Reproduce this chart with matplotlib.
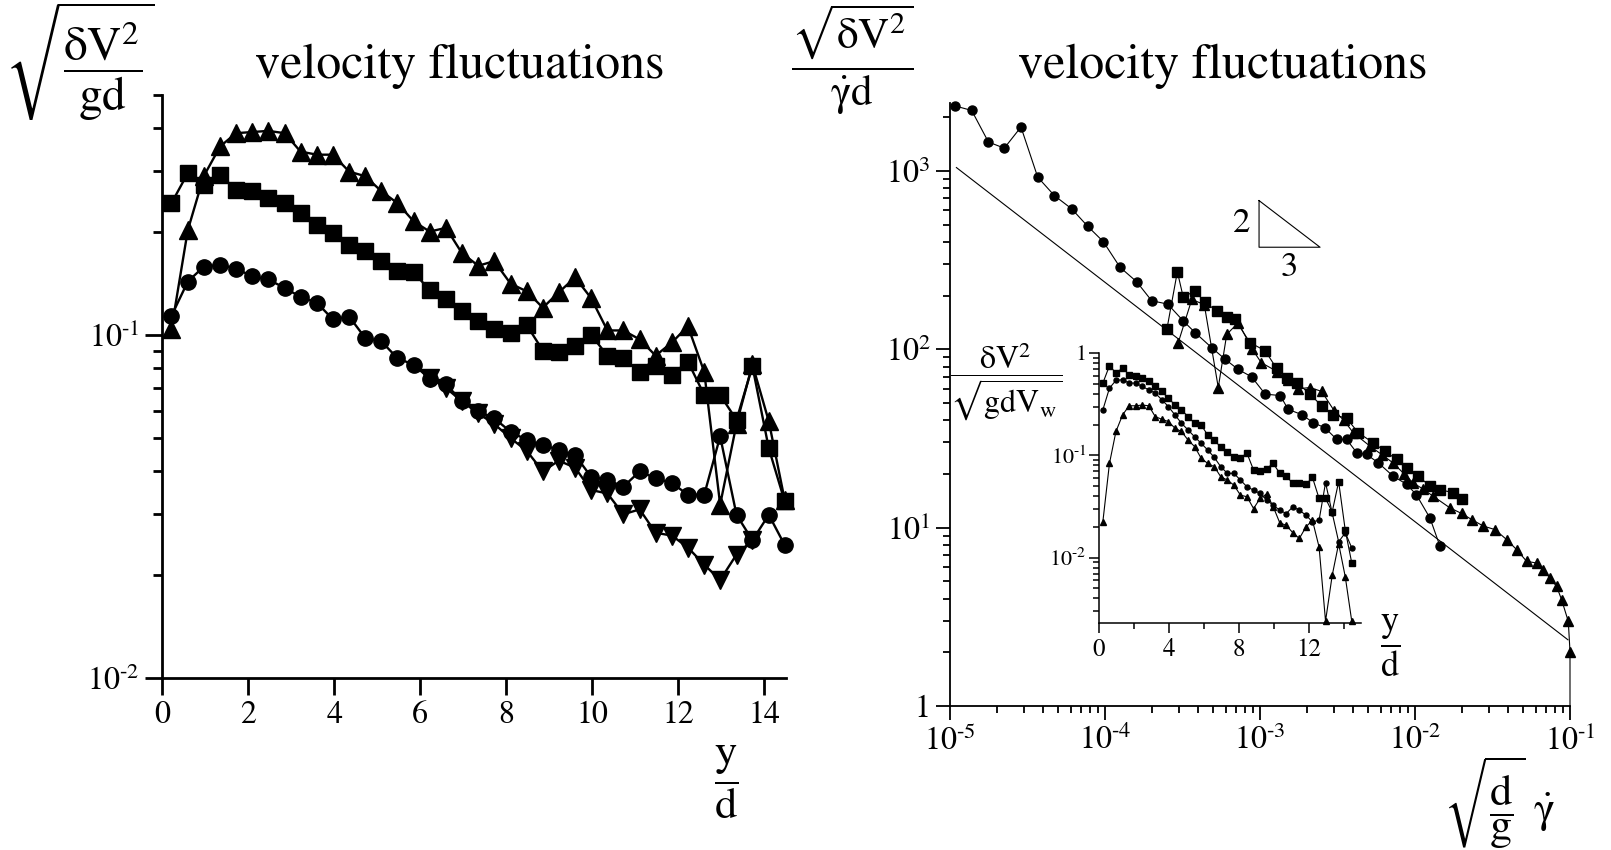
import matplotlib
matplotlib.use("Agg")
import matplotlib.pyplot as plt
from matplotlib.ticker import FixedLocator, FixedFormatter, LogLocator, NullFormatter

plt.rcParams['font.family'] = 'STIXGeneral'
plt.rcParams['mathtext.fontset'] = 'stix'

# ---- left panel: sqrt(dV^2/gd) against y/d ----
y_over_d = [0.22, 0.60, 0.97, 1.35, 1.72, 2.10, 2.47, 2.85, 3.22, 3.60,
            3.97, 4.35, 4.72, 5.10, 5.47, 5.85, 6.22, 6.60, 6.97, 7.35,
            7.72, 8.10, 8.47, 8.85, 9.22, 9.60, 9.97, 10.35, 10.72, 11.10,
            11.47, 11.85, 12.22, 12.60, 12.97, 13.35, 13.72, 14.10, 14.47]
tri_left = [0.104, 0.202, 0.290, 0.354, 0.387, 0.390, 0.393, 0.387, 0.342, 0.335,
            0.335, 0.299, 0.290, 0.262, 0.242, 0.214, 0.200, 0.205, 0.173, 0.159,
            0.164, 0.141, 0.134, 0.120, 0.133, 0.147, 0.128, 0.103, 0.103, 0.097,
            0.087, 0.095, 0.106, 0.078, 0.032, 0.055, 0.082, 0.056, 0.033]
sq_left = [0.242, 0.296, 0.273, 0.292, 0.265, 0.262, 0.250, 0.242, 0.226, 0.209,
           0.198, 0.183, 0.175, 0.164, 0.153, 0.152, 0.135, 0.127, 0.117, 0.110,
           0.104, 0.101, 0.107, 0.090, 0.089, 0.093, 0.100, 0.087, 0.0855, 0.078,
           0.081, 0.0765, 0.0836, 0.0668, 0.0668, 0.0565, 0.081, 0.0467, 0.0327]
circ_left = [0.1136, 0.143, 0.158, 0.160, 0.156, 0.148, 0.145, 0.137, 0.129, 0.124,
             0.111, 0.113, 0.098, 0.0957, 0.0855, 0.0818, 0.0745, 0.0718, 0.064, 0.060,
             0.0571, 0.0522, 0.0494, 0.0478, 0.0462, 0.0446, 0.0386, 0.0378, 0.0361, 0.040,
             0.0382, 0.037, 0.0342, 0.0342, 0.0506, 0.0299, 0.0252, 0.0299, 0.0244]
down_x = [6.22, 6.60, 6.97, 7.35, 7.72, 8.10, 8.47, 8.85, 9.22, 9.60,
          9.97, 10.35, 10.72, 11.10, 11.47, 11.85, 12.22, 12.60, 12.97, 13.35, 13.72]
down_left = [0.075, 0.070, 0.064, 0.059, 0.055, 0.050, 0.046, 0.040, 0.043, 0.041,
             0.0353, 0.0345, 0.030, 0.031, 0.0265, 0.026, 0.024, 0.0214, 0.0193, 0.0229, 0.0252]

# ---- right panel: sqrt(dV^2)/(gamma_dot d) against sqrt(d/g) gamma_dot ----
circ_rate = [1.08e-5, 1.38e-5, 1.77e-5, 2.24e-5, 2.87e-5, 3.68e-5, 4.71e-5, 6.10e-5, 7.73e-5, 9.75e-5,
             1.25e-4, 1.60e-4, 2.00e-4, 2.54e-4, 3.20e-4, 3.81e-4, 4.88e-4, 5.94e-4, 7.24e-4, 8.83e-4,
             1.08e-3, 1.35e-3, 1.52e-3, 1.86e-3, 2.21e-3, 2.62e-3, 3.13e-3, 3.62e-3, 4.21e-3, 4.88e-3,
             5.79e-3, 7.24e-3, 8.83e-3, 1.02e-2, 1.25e-2, 1.45e-2]
circ_fluct = [2310, 2180, 1450, 1340, 1760, 922, 727, 612, 489, 401,
              288, 239, 187, 179, 144, 124, 102, 88, 77, 70,
              56, 55, 46, 43, 38.7, 36.3, 31.2, 31.2, 26.3, 25.7,
              23.1, 19.4, 17.5, 15.3, 11.3, 7.85]
sq_rate = [2.51e-4, 2.93e-4, 3.20e-4, 3.80e-4, 4.42e-4, 5.25e-4, 6.10e-4, 6.90e-4, 8.61e-4, 1.08e-3,
           1.28e-3, 1.49e-3, 1.73e-3, 2.10e-3, 2.51e-3, 2.97e-3, 3.62e-3, 4.31e-3, 5.38e-3, 6.40e-3,
           7.62e-3, 8.83e-3, 1.05e-2, 1.25e-2, 1.45e-2, 1.77e-2, 2.00e-2]
sq_fluct = [130, 272, 195, 213, 183, 164, 151, 147, 109, 98,
            78, 69, 65, 56, 48, 43, 41, 34, 29.9, 26.8,
            24.1, 21.6, 19.4, 17.1, 16.3, 15.7, 14.4]
tri_rate = [2.97e-4, 3.63e-4, 4.37e-4, 5.38e-4, 6.10e-4, 7.24e-4, 8.91e-4, 1.02e-3, 1.29e-3, 1.51e-3,
            1.77e-3, 2.10e-3, 2.50e-3, 3.02e-3, 3.47e-3, 4.00e-3, 5.13e-3, 6.17e-3, 7.24e-3, 8.51e-3,
            9.75e-3, 1.12e-2, 1.31e-2, 1.68e-2, 2.00e-2, 2.32e-2, 2.76e-2, 3.28e-2, 3.90e-2, 4.53e-2,
            5.25e-2, 6.10e-2, 6.73e-2, 7.43e-2, 8.20e-2, 8.83e-2, 9.75e-2, 1.0e-1, 1.0e-1]
tri_fluct = [109, 190, 178, 61, 121, 141, 100, 84, 75, 67,
             60, 61, 58, 45, 40, 34, 28.6, 25.5, 23, 20,
             17.8, 16.5, 15, 12.9, 12.0, 11.1, 10.2, 9.75, 8.57, 7.52,
             6.47, 6.33, 5.81, 5.21, 4.68, 3.94, 2.98, 2.02, 1.0]
slope_x = [1.1e-5, 9.7e-2]
slope_y = [1043, 2.35]
wedge_x = [9.86e-4, 9.86e-4, 2.44e-3, 9.86e-4]
wedge_y = [681, 373, 373, 681]

# ---- inset: dV^2/sqrt(gd)V_w against y/d ----
sq_inset = [0.508, 0.751, 0.637, 0.713, 0.613, 0.600, 0.569, 0.527, 0.471, 0.421,
            0.362, 0.311, 0.278, 0.239, 0.206, 0.198, 0.158, 0.141, 0.120, 0.109,
            0.097, 0.095, 0.105, 0.0718, 0.070, 0.074, 0.0835, 0.0667, 0.0627, 0.0531,
            0.054, 0.052, 0.0609, 0.0379, 0.0379, 0.028, 0.0552, 0.0185, 0.0089]
circ_inset = [0.278, 0.454, 0.540, 0.548, 0.508, 0.508, 0.471, 0.437, 0.405, 0.349,
              0.300, 0.248, 0.206, 0.177, 0.152, 0.131, 0.113, 0.0955, 0.0774, 0.0667,
              0.0667, 0.0573, 0.0493, 0.0457, 0.0424, 0.0365, 0.0326, 0.0291, 0.027, 0.0314,
              0.0291, 0.026, 0.0224, 0.0232, 0.054, 0.0274, 0.0143, 0.0175, 0.0125]
tri_inset = [0.0224, 0.0835, 0.171, 0.248, 0.305, 0.305, 0.310, 0.305, 0.239, 0.225,
             0.214, 0.184, 0.171, 0.141, 0.122, 0.0935, 0.0835, 0.0774, 0.0618, 0.0573,
             0.0512, 0.0408, 0.0394, 0.0302, 0.0379, 0.042, 0.0316, 0.0219, 0.0207, 0.0175,
             0.0154, 0.0200, 0.0232, 0.0127, 0.0024, 0.0067, 0.0137, 0.0065, 0.0024]

left_xticks = [0, 2, 4, 6, 8, 10, 12, 14]
left_yticks = [0.01, 0.1]
left_ylabels = ['$10^{\u2010 2}$', '$10^{\u2010 1}$']
right_xticks = [1e-5, 1e-4, 1e-3, 1e-2, 1e-1]
right_xlabels = ['$10^{\u2010 5}$', '$10^{\u2010 4}$', '$10^{\u2010 3}$', '$10^{\u2010 2}$', '$10^{\u2010 1}$']
right_yticks = [1, 10, 100, 1000]
right_ylabels = ['1', '$10^{1}$', '$10^{2}$', '$10^{3}$']
inset_xticks = [0, 4, 8, 12]
inset_xminor = [2, 6, 10, 14]
inset_yticks = [0.01, 0.1, 1]
inset_ylabels = ['$10^{\u2010 2}$', '$10^{\u2010 1}$', '1']

W, H = 1611, 850
fig = plt.figure(figsize=(W / 100, H / 100), dpi=100)


def box(x0, y0, x1, y1):
    # pixel box (top-left origin) -> figure fraction rect
    return [x0 / W, 1 - y1 / H, (x1 - x0) / W, (y1 - y0) / H]


def style(ax, lw, major, minor, size):
    for s in ['top', 'right']:
        ax.spines[s].set_visible(False)
    for s in ['left', 'bottom']:
        ax.spines[s].set_linewidth(lw)
    ax.tick_params(which='major', direction='out', length=major, width=lw, labelsize=size, pad=4)
    ax.tick_params(which='minor', direction='out', length=minor, width=lw)


k = dict(color='black', clip_on=False)

# left panel
ax1 = fig.add_axes(box(162, 95, 786, 678))
ax1.set_yscale('log')
ax1.plot(y_over_d, tri_left, marker='^', ms=13.5, lw=1.7, **k)
ax1.plot(y_over_d, sq_left, marker='s', ms=12, lw=1.7, **k)
ax1.plot(y_over_d, circ_left, marker='o', ms=11, lw=1.7, **k)
ax1.plot(down_x, down_left, marker='v', ms=13.5, lw=1.7, **k)
ax1.set_xlim(0, 14.5)
ax1.set_ylim(0.01, 0.5)
ax1.xaxis.set_major_locator(FixedLocator(left_xticks))
ax1.yaxis.set_major_locator(FixedLocator(left_yticks))
ax1.yaxis.set_major_formatter(FixedFormatter(left_ylabels))
ax1.yaxis.set_minor_locator(LogLocator(base=10, subs=range(2, 10)))
ax1.yaxis.set_minor_formatter(NullFormatter())
style(ax1, 2.0, 12, 6.5, 23)

# right panel
ax2 = fig.add_axes(box(950, 103, 1570, 706))
ax2.set_xscale('log')
ax2.set_yscale('log')
ax2.plot(slope_x, slope_y, color='black', lw=0.8)
ax2.plot(wedge_x, wedge_y, color='black', lw=0.8)
ax2.plot(circ_rate, circ_fluct, marker='o', ms=6.5, lw=0.8, **k)
ax2.plot(sq_rate, sq_fluct, marker='s', ms=7, lw=0.8, **k)
ax2.plot(tri_rate, tri_fluct, marker='^', ms=7.5, lw=0.8,
         markevery=list(range(len(tri_rate) - 1)), **k)
ax2.set_xlim(1e-5, 1e-1)
ax2.set_ylim(1, 2400)
ax2.xaxis.set_major_locator(FixedLocator(right_xticks))
ax2.xaxis.set_major_formatter(FixedFormatter(right_xlabels))
ax2.yaxis.set_major_locator(FixedLocator(right_yticks))
ax2.yaxis.set_major_formatter(FixedFormatter(right_ylabels))
for a in (ax2.xaxis, ax2.yaxis):
    a.set_minor_locator(LogLocator(base=10, subs=range(2, 10)))
    a.set_minor_formatter(NullFormatter())
style(ax2, 1.3, 10, 5, 23)
ax2.text(8.6e-4, 505, '2', fontsize=25, ha='right', va='center')
ax2.text(1.55e-3, 285, '3', fontsize=25, ha='center', va='center')

# inset
ax3 = fig.add_axes(box(1099, 353, 1361, 623))
ax3.patch.set_alpha(0)
ax3.set_yscale('log')
ax3.plot(y_over_d, sq_inset, marker='s', ms=3.8, lw=0.8, **k)
ax3.plot(y_over_d, circ_inset, marker='o', ms=3.6, lw=0.8, **k)
ax3.plot(y_over_d, tri_inset, marker='^', ms=4, lw=0.8, **k)
ax3.set_xlim(0, 15)
ax3.set_ylim(0.0023, 1)
ax3.xaxis.set_major_locator(FixedLocator(inset_xticks))
ax3.xaxis.set_minor_locator(FixedLocator(inset_xminor))
ax3.yaxis.set_major_locator(FixedLocator(inset_yticks))
ax3.yaxis.set_major_formatter(FixedFormatter(inset_ylabels))
ax3.yaxis.set_minor_locator(LogLocator(base=10, subs=range(2, 10)))
ax3.yaxis.set_minor_formatter(NullFormatter())
style(ax3, 1.1, 7, 4, 18)
ax3.tick_params(axis='y', labelsize=16, pad=2)

# labels and titles
fig.text(80 / W, 1 - 62 / H, r'$\sqrt{\dfrac{\mathrm{\delta V}^{2}}{\mathrm{gd}}}$', fontsize=34, ha='center', va='center')
fig.text(460 / W, 1 - 66 / H, 'velocity fluctuations', fontsize=36, ha='center', va='center')
fig.text(726 / W, 1 - 782 / H, r'$\dfrac{\mathrm{y}}{\mathrm{d}}$', fontsize=32, ha='center', va='center')
fig.text(852 / W, 1 - 60 / H, r'$\dfrac{\sqrt{\mathrm{\delta V}^{2}}}{\dot{\mathrm{\gamma}}\mathrm{d}}$', fontsize=31, ha='center', va='center')
fig.text(1223 / W, 1 - 66 / H, 'velocity fluctuations', fontsize=36, ha='center', va='center')
fig.text(1500 / W, 1 - 803 / H, r'$\sqrt{\dfrac{\mathrm{d}}{\mathrm{g}}}\ \dot{\mathrm{\gamma}}$', fontsize=32, ha='center', va='center')
fig.text(1006 / W, 1 - 382 / H, r'$\dfrac{\mathrm{\delta V}^{2}}{\sqrt{\mathrm{gdV_{w}}}}$', fontsize=23, ha='center', va='center')
fig.text(1390 / W, 1 - 646 / H, r'$\dfrac{\mathrm{y}}{\mathrm{d}}$', fontsize=26, ha='center', va='center')

fig.savefig('out.png', dpi=100)
